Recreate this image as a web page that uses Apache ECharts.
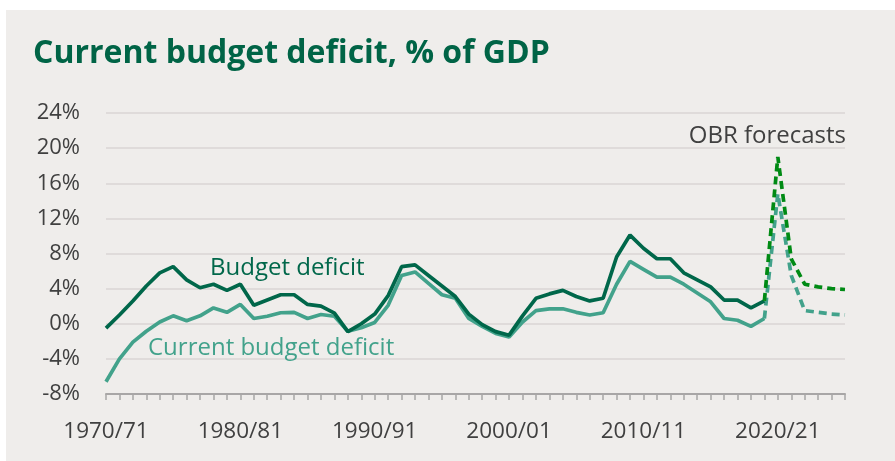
<!DOCTYPE html>
<html>
<head>
<meta charset="utf-8">
<script src="https://cdn.jsdelivr.net/npm/echarts@6/dist/echarts.min.js"></script>
<style>
  html, body { margin: 0; padding: 0; background: #ffffff; }
  #chart { width: 895px; height: 461px; }
</style>
</head>
<body>
<div id="chart"></div>
<script>
// Fiscal years, 1970/71 to 2025/26
const years = [
  '1970/71','1971/72','1972/73','1973/74','1974/75','1975/76','1976/77','1977/78','1978/79','1979/80',
  '1980/81','1981/82','1982/83','1983/84','1984/85','1985/86','1986/87','1987/88','1988/89','1989/90',
  '1990/91','1991/92','1992/93','1993/94','1994/95','1995/96','1996/97','1997/98','1998/99','1999/00',
  '2000/01','2001/02','2002/03','2003/04','2004/05','2005/06','2006/07','2007/08','2008/09','2009/10',
  '2010/11','2011/12','2012/13','2013/14','2014/15','2015/16','2016/17','2017/18','2018/19','2019/20',
  '2020/21','2021/22','2022/23','2023/24','2024/25','2025/26'
];

// Public sector net borrowing, % of GDP
const budgetDeficit = [
  -0.5, 1.0, 2.6, 4.3, 5.8, 6.5, 5.0, 4.1, 4.5, 3.8,
  4.5, 2.1, 2.7, 3.3, 3.3, 2.2, 2.0, 1.2, -0.9, 0.0,
  1.1, 3.2, 6.5, 6.7, 5.5, 4.3, 3.1, 1.1, -0.1, -0.9,
  -1.3, 0.9, 2.9, 3.4, 3.8, 3.1, 2.6, 2.9, 7.6, 10.1,
  8.6, 7.4, 7.4, 5.8, 5.0, 4.2, 2.7, 2.7, 1.8, 2.6,
  19.0, 7.4, 4.5, 4.2, 4.0, 3.9
];

// Current budget deficit, % of GDP
const currentBudgetDeficit = [
  -6.6, -4.0, -2.1, -0.85, 0.2, 0.9, 0.35, 0.9, 1.8, 1.3,
  2.2, 0.6, 0.85, 1.25, 1.3, 0.6, 1.05, 0.85, -0.85, -0.45,
  0.15, 2.1, 5.5, 5.9, 4.6, 3.3, 2.9, 0.6, -0.3, -1.1,
  -1.5, 0.2, 1.5, 1.7, 1.7, 1.3, 1.0, 1.25, 4.5, 7.1,
  6.2, 5.3, 5.3, 4.5, 3.5, 2.5, 0.6, 0.4, -0.3, 0.6,
  14.8, 5.5, 1.5, 1.3, 1.1, 1.0
];

// Last outturn year; later years are OBR forecasts
const lastOutturn = '2019/20';

const yTicks = { min: -8, max: 24, step: 4 };

const cut = years.indexOf(lastOutturn);
const outturn = arr => arr.map((v, i) => (i <= cut ? v : null));
const forecast = arr => arr.map((v, i) => (i >= cut ? v : null));

const FONT = '"Open Sans", "Noto Sans", sans-serif';
const DARK = '#00674a';
const TEAL = '#42a28b';
const FC_DARK = '#008a14';
const LINE_W = 3.7;

const chart = echarts.init(document.getElementById('chart'), null, { renderer: 'canvas' });

chart.setOption({
  backgroundColor: '#ffffff',
  animation: false,
  graphic: [
    {
      type: 'rect', z: -10, silent: true,
      shape: { x: 6, y: 10, width: 889, height: 451 },
      style: { fill: '#efedeb' }
    },
    {
      type: 'text', left: 33, top: 38, z: 10,
      style: {
        text: 'Current budget deficit, % of GDP',
        font: 'bold 32px ' + FONT,
        fill: '#006446'
      }
    },
    {
      type: 'text', left: 210, top: 256, z: 10,
      style: { text: 'Budget deficit', font: '24px ' + FONT, fill: DARK }
    },
    {
      type: 'text', left: 148, top: 336, z: 10,
      style: { text: 'Current budget deficit', font: '24px ' + FONT, fill: TEAL }
    },
    {
      type: 'text', right: 49, top: 124, z: 10,
      style: { text: 'OBR forecasts', font: '24px ' + FONT, fill: '#404040' }
    }
  ],
  grid: { left: 106, right: 50, top: 113, bottom: 67, containLabel: false },
  xAxis: [
    {
      type: 'category',
      data: years,
      boundaryGap: false,
      axisLine: { show: false },
      axisTick: { show: false },
      axisLabel: {
        interval: 9,
        margin: 26,
        color: '#404040',
        fontFamily: FONT,
        fontSize: 22.5
      },
      splitLine: { show: false }
    },
    {
      type: 'category',
      data: years,
      position: 'bottom',
      boundaryGap: false,
      axisLine: { onZero: true, lineStyle: { color: '#a8a6a6', width: 2 } },
      axisTick: { show: true, interval: 0, length: 6, lineStyle: { color: '#a8a6a6', width: 1.5 } },
      axisLabel: { show: false },
      splitLine: { show: false }
    }
  ],
  yAxis: {
    type: 'value',
    min: yTicks.min,
    max: yTicks.max,
    interval: yTicks.step,
    axisLine: { show: false },
    axisTick: { show: false },
    axisLabel: {
      formatter: '{value}%',
      margin: 26,
      color: '#404040',
      fontFamily: FONT,
      fontSize: 22
    },
    splitLine: { lineStyle: { color: '#dad4d4', width: 1.5 } }
  },
  series: [
    {
      name: 'Current budget deficit',
      type: 'line',
      data: outturn(currentBudgetDeficit),
      showSymbol: false,
      lineStyle: { color: TEAL, width: LINE_W },
      z: 3
    },
    {
      name: 'Current budget deficit (forecast)',
      type: 'line',
      data: forecast(currentBudgetDeficit),
      showSymbol: false,
      lineStyle: { color: TEAL, width: LINE_W, type: [8, 5] },
      z: 3
    },
    {
      name: 'Budget deficit',
      type: 'line',
      data: outturn(budgetDeficit),
      showSymbol: false,
      lineStyle: { color: DARK, width: LINE_W },
      z: 4
    },
    {
      name: 'Budget deficit (forecast)',
      type: 'line',
      data: forecast(budgetDeficit),
      showSymbol: false,
      lineStyle: { color: FC_DARK, width: LINE_W, type: [8, 5] },
      z: 4
    }
  ]
});
</script>
</body>
</html>
